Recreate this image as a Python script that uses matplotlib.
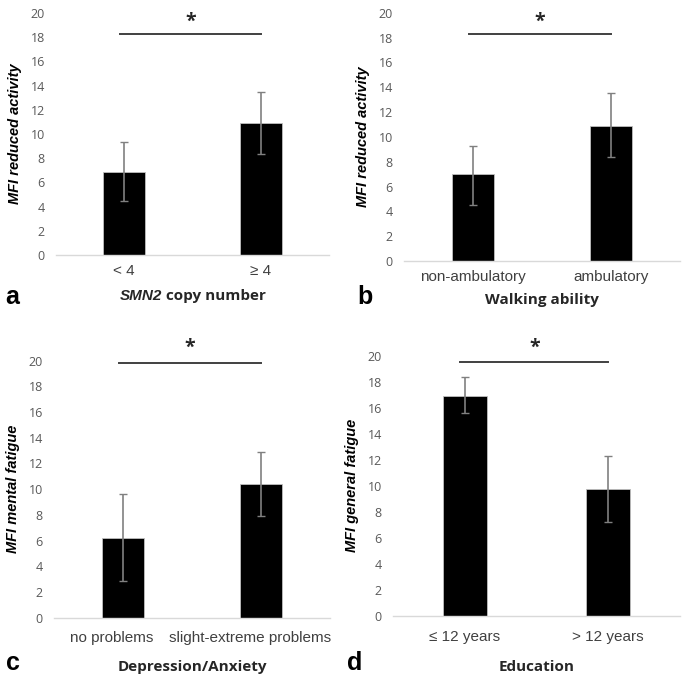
import matplotlib
matplotlib.use("Agg")
import matplotlib.pyplot as plt
import matplotlib.transforms as mtransforms
from matplotlib.offsetbox import TextArea, HPacker, AnnotationBbox

# ---- data ----
cats_a = ["< 4", "\u2265 4"]
vals_a = [6.9, 10.9]
lo_a = [4.5, 8.35]
hi_a = [9.3, 13.45]

cats_b = ["non-ambulatory", "ambulatory"]
vals_b = [7.0, 10.9]
lo_b = [4.55, 8.4]
hi_b = [9.3, 13.5]

cats_c = ["no problems", "slight-extreme problems"]
vals_c = [6.2, 10.4]
lo_c = [2.85, 7.9]
hi_c = [9.65, 12.9]

cats_d = ["\u2264 12 years", "> 12 years"]
vals_d = [16.9, 9.75]
lo_d = [15.6, 7.2]
hi_d = [18.4, 12.3]

yticks = [0, 2, 4, 6, 8, 10, 12, 14, 16, 18, 20]

W, H = 685, 678
fig = plt.figure(figsize=(W / 100, H / 100), dpi=100)

FONT = "Open Sans"
CATFONT = "Liberation Sans"
TICKC = "#595959"

def px_axes(left, right, top, bottom):
    return fig.add_axes([left / W, (H - bottom) / H, (right - left) / W, (bottom - top) / H])

panels = [
    dict(box=(56, 329, 13, 255), cats=cats_a, vals=vals_a, lo=lo_a, hi=hi_a,
         ylabel="MFI reduced activity", xlabel=[("SMN2", "italic"), (" copy number", "normal")],
         letter="a", letter_xy=(12, 297), xlabel_y=296, cat_y=271, sig_y=18.3, star_y=22, catdx=0),
    dict(box=(404, 680, 12.7, 261), cats=cats_b, vals=vals_b, lo=lo_b, hi=hi_b,
         ylabel="MFI reduced activity", xlabel=[("Walking ability", "normal")],
         letter="b", letter_xy=(365, 297), xlabel_y=300, cat_y=277, sig_y=18.3, star_y=22, catdx=0),
    dict(box=(54, 330, 360.7, 617.7), cats=cats_c, vals=vals_c, lo=lo_c, hi=hi_c,
         ylabel="MFI mental fatigue", xlabel=[("Depression/Anxiety", "normal")],
         letter="c", letter_xy=(13, 663), xlabel_y=667, cat_y=638, sig_y=19.8, star_y=348, catdx=-11),
    dict(box=(393, 680, 355.7, 616), cats=cats_d, vals=vals_d, lo=lo_d, hi=hi_d,
         ylabel="MFI general fatigue", xlabel=[("Education", "normal")],
         letter="d", letter_xy=(355, 663), xlabel_y=667, cat_y=637, sig_y=19.5, star_y=348, catdx=0),
]

for p in panels:
    l, r, t, b = p["box"]
    ax = px_axes(l, r, t, b)
    x = list(range(len(p["cats"])))
    yerr = [[v - lo for v, lo in zip(p["vals"], p["lo"])],
            [hi - v for v, hi in zip(p["vals"], p["hi"])]]
    ax.bar(x, p["vals"], width=0.31, color="black", edgecolor="#bfbfbf", linewidth=0.6, zorder=2)
    ax.errorbar(x, p["vals"], yerr=yerr, fmt="none", ecolor="#808080",
                elinewidth=1.2, capsize=3, capthick=1.0, zorder=3)
    ax.set_xlim(-0.5, 1.5)
    ax.set_ylim(0, 20)
    ax.set_yticks(yticks)
    ax.set_yticklabels([str(v) for v in yticks], fontsize=9, color=TICKC, family=FONT)
    ax.set_xticks(x)
    ax.set_xticklabels(p["cats"], fontsize=11, color="#404040", family=CATFONT)
    ax.tick_params(axis="both", length=0)
    ax.tick_params(axis="y", pad=8)
    ax.tick_params(axis="x", pad=(p["cat_y"] - b) * 0.72 - 5)
    if p["catdx"]:
        off = mtransforms.ScaledTranslation(p["catdx"] / 100, 0, fig.dpi_scale_trans)
        for lab in ax.get_xticklabels():
            lab.set_transform(lab.get_transform() + off)
    for s in ["top", "right", "left"]:
        ax.spines[s].set_visible(False)
    ax.spines["bottom"].set_color("#d9d9d9")
    ax.spines["bottom"].set_linewidth(1.0)
    ax.set_facecolor("none")
    ax.set_ylabel(p["ylabel"], fontsize=10.5, fontweight="bold", fontstyle="italic",
                  family="Liberation Sans", labelpad=6)
    # significance bar
    ax.plot([-0.03, 1.0], [p["sig_y"], p["sig_y"]], color="#404040", lw=1.4, clip_on=False, zorder=4)
    fig.text(((l + r) / 2 - 2) / W, (H - p["star_y"]) / H, "*",
             ha="center", va="center", fontsize=14, fontweight="bold", family=FONT, color="#262626")
    # xlabel
    areas = [TextArea(s, textprops=dict(fontsize=11, fontweight="bold", fontstyle=st,
                                        family=("Liberation Sans" if st == "italic" else FONT),
                                        color="#262626"))
             for s, st in p["xlabel"]]
    pack = HPacker(children=areas, align="baseline", pad=0, sep=0)
    ab = AnnotationBbox(pack, (((l + r) / 2) / W, (H - p["xlabel_y"]) / H), xycoords="figure fraction",
                        frameon=False, box_alignment=(0.5, 0.5), pad=0)
    fig.add_artist(ab)
    lx, ly = p["letter_xy"]
    fig.text(lx / W, (H - ly) / H, p["letter"], ha="center", va="center",
             fontsize=18, fontweight="bold", family="Liberation Sans", color="black")

fig.savefig("out.png", dpi=100, facecolor="white")
